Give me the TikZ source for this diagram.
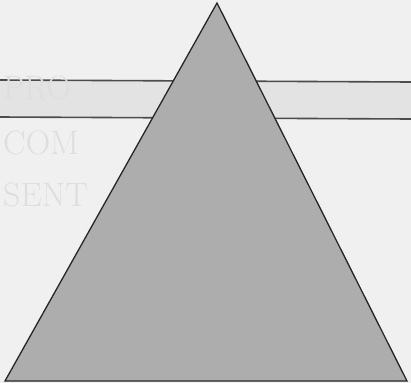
\documentclass[tikz,border=0pt]{standalone}
\begin{document}
\begin{tikzpicture}[x=1bp,y=-1bp]
        % Page background (scanned sheet)
        \fill[black!6] (0,0) rectangle (411,383);
        \useasboundingbox (0,0) rectangle (411,383);

        % Grey band across the sheet
        \fill[black!11] (0,80) -- (411,82) -- (411,119) -- (0,117) -- cycle;
        \draw[black!70, line width=1.6bp] (0,80) -- (411,82);
        \draw[black!70, line width=1.6bp] (0,117) -- (411,119);

        % Faint print showing through
        \node[black!13, font=\fontsize{34}{34}\selectfont, anchor=west, inner sep=0pt] (pro) at (3,88) {PRO};
        \node[black!13, font=\fontsize{34}{34}\selectfont, anchor=west, inner sep=0pt] (com) at (3,143) {COM};
        \node[black!13, font=\fontsize{34}{34}\selectfont, anchor=west, inner sep=0pt] (sent) at (3,195) {SENT};

        % Triangle
        \coordinate (apex) at (217,3);
        \coordinate (left) at (5,381);
        \coordinate (right) at (407,381);
        \filldraw[fill=black!32, draw=black!85, line width=1.3bp] (apex) -- (left) -- (right) -- cycle;
\end{tikzpicture}
\end{document}
